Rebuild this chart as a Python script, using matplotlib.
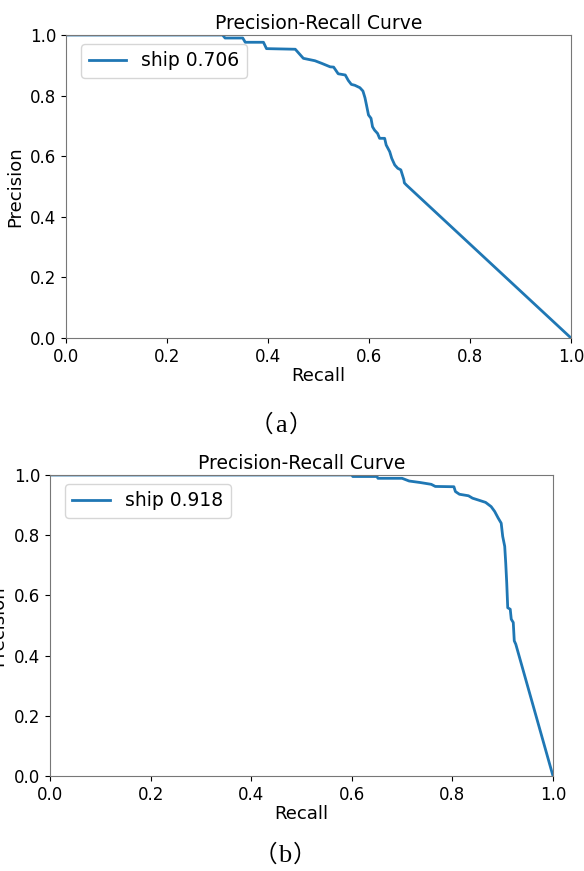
import numpy as np
import matplotlib.pyplot as plt

# PR curve (a)
recall_a = [0.0, 0.31, 0.315, 0.35, 0.355, 0.391, 0.397, 0.454, 0.470, 0.493, 0.507, 0.523,
            0.530, 0.539, 0.553, 0.559, 0.565, 0.572, 0.582, 0.588, 0.592, 0.595, 0.599,
            0.604, 0.607, 0.611, 0.617, 0.621, 0.631, 0.634, 0.641, 0.645, 0.651, 0.657,
            0.663, 0.669, 0.670, 0.674, 1.0]
precision_a = [1.0, 1.0, 0.99, 0.99, 0.976, 0.976, 0.955, 0.953, 0.923, 0.915, 0.906, 0.895,
               0.894, 0.872, 0.868, 0.850, 0.837, 0.834, 0.826, 0.815, 0.793, 0.769, 0.736,
               0.725, 0.697, 0.686, 0.675, 0.659, 0.659, 0.637, 0.615, 0.593, 0.571, 0.560,
               0.555, 0.523, 0.512, 0.505, 0.0]

# PR curve (b)
recall_b = [0.0, 0.60, 0.602, 0.65, 0.652, 0.70, 0.714, 0.736, 0.758, 0.766, 0.803, 0.806,
            0.814, 0.832, 0.840, 0.855, 0.866, 0.877, 0.884, 0.891, 0.897, 0.900, 0.904,
            0.906, 0.908, 0.910, 0.915, 0.917, 0.921, 0.923, 0.926, 1.0]
precision_b = [1.0, 1.0, 0.995, 0.995, 0.989, 0.989, 0.980, 0.975, 0.969, 0.962, 0.961, 0.945,
               0.936, 0.931, 0.923, 0.915, 0.909, 0.895, 0.879, 0.857, 0.840, 0.796, 0.763,
               0.708, 0.642, 0.559, 0.554, 0.521, 0.510, 0.449, 0.438, 0.0]

curves = [(recall_a, precision_a, 'ship 0.706', [66/584, 1-338/871, 505/584, 303/871]),
          (recall_b, precision_b, 'ship 0.918', [50/584, 1-776/871, 503/584, 301/871])]
captions = ['a', 'b']
caption_pos = [(281/584, 1-432/871), (285/584, 1-862/871)]

fig = plt.figure(figsize=(5.84, 8.71), dpi=100)

for (r, p, lab, rect), cap, (cx, cy) in zip(curves, captions, caption_pos):
    ax = fig.add_axes(rect)
    ax.plot(r, p, color='#1f77b4', linewidth=2, label=lab)
    ax.set_xlim(0, 1)
    ax.set_ylim(0, 1)
    ax.set_xlabel('Recall', fontsize=13, labelpad=1)
    ax.set_ylabel('Precision', fontsize=13)
    ax.set_title('Precision-Recall Curve', fontsize=13.5, pad=4)
    ax.tick_params(labelsize=12)
    for s in ax.spines.values():
        s.set_color('#777777')
    ax.legend(loc='upper left', fontsize=13.5, borderaxespad=0,
              bbox_to_anchor=(15/505, 1-9/303))
    # caption: fullwidth brackets round a serif letter
    fig.text(cx, cy, cap, ha='center', va='baseline', fontsize=19, family='Liberation Serif')
    fig.text(cx - 8/584, cy, '（', ha='right', va='baseline', fontsize=17,
             family='Noto Sans CJK SC')
    fig.text(cx + 8/584, cy, '）', ha='left', va='baseline', fontsize=17,
             family='Noto Sans CJK SC')

fig.axes[1].yaxis.set_label_coords(-0.085, 0.5)

fig.savefig('out.png', dpi=100)
